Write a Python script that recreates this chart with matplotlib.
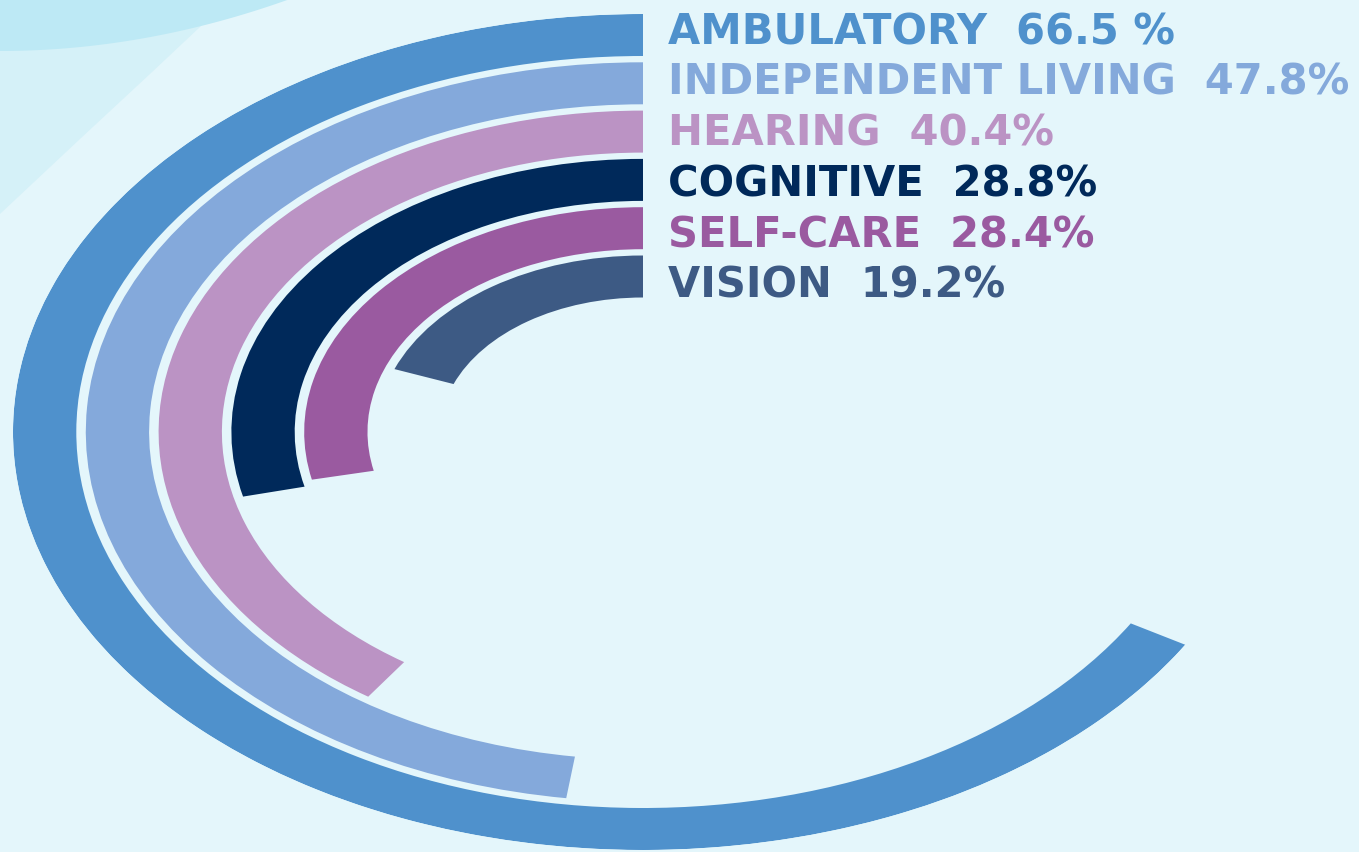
import numpy as np
import matplotlib
matplotlib.use("Agg")
import matplotlib.pyplot as plt
from matplotlib.patches import Polygon

# data
labels = ["AMBULATORY", "INDEPENDENT LIVING", "HEARING", "COGNITIVE", "SELF-CARE", "VISION"]
values = [66.5, 47.8, 40.4, 28.8, 28.4, 19.2]
value_text = ["66.5 %", "47.8%", "40.4%", "28.8%", "28.4%", "19.2%"]
colors = ["#4f91cc", "#84a9db", "#bb93c4", "#00295a", "#9a5aa0", "#3d5a84"]

W, H = 1359, 853
bg = "#e4f6fb"

fig = plt.figure(figsize=(W / 100, H / 100), dpi=100, facecolor=bg)

# background decoration, top-left corner
def px(points):
    return [(x / W, 1 - y / H) for x, y in points]

fig.patches.append(Polygon(px([(0, 0), (0, 215), (80, 140), (150, 75), (200, 28), (225, 0)]),
                           closed=True, transform=fig.transFigure,
                           facecolor="#d5f1f8", edgecolor="none", zorder=0))
xs = np.linspace(0, 290, 40)
curve = [(x, 52 * (1 - (x / 290) ** 2)) for x in xs]
fig.patches.append(Polygon(px([(0, 0)] + curve + [(290, 0)]),
                           closed=True, transform=fig.transFigure,
                           facecolor="#bde9f5", edgecolor="none", zorder=0))

# polar axes stretched into an ellipse
cx, cy, rx, ry = 643, 433, 630, 418
ax = fig.add_axes([(cx - rx) / W, 1 - (cy + ry) / H, 2 * rx / W, 2 * ry / H],
                  projection="polar")
ax.set_aspect("auto")
ax.set_theta_zero_location("N")
ax.set_theta_direction(1)
ax.patch.set_visible(False)
ax.axis("off")

step, thick = 48.3, 42
bottoms = [ry - thick - i * step for i in range(len(values))]
angles = np.deg2rad(np.array(values) * 3.6)

ax.bar(angles / 2, thick, width=angles, bottom=bottoms, color=colors,
       edgecolor="none", align="center")
ax.set_ylim(0, ry)

# labels next to the start of each ring; text lines are spaced a bit wider than rings
for i, (lab, vt, b, c) in enumerate(zip(labels, value_text, bottoms, colors)):
    ax.annotate(f"{lab}  {vt}", xy=(0, b + thick / 2), xytext=(25, 4 - 2.5 * i),
                textcoords="offset pixels", ha="left", va="center",
                color=c, fontsize=30, fontweight="bold",
                family=["DejaVu Sans"],
                annotation_clip=False)

fig.savefig("out.png", dpi=100, facecolor=bg)
